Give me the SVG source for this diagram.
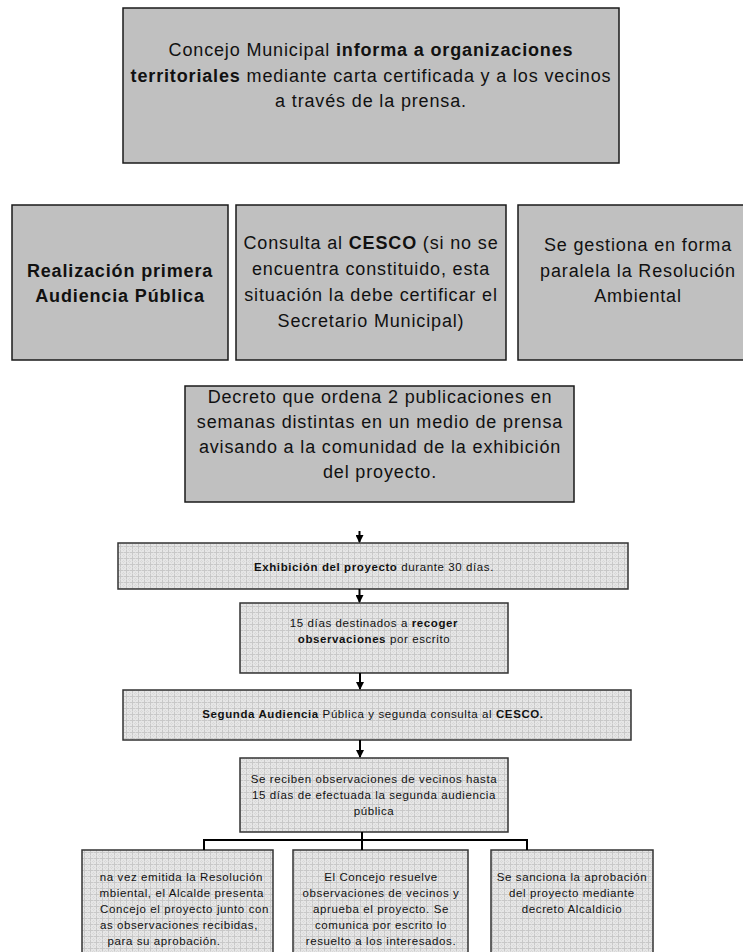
<svg xmlns="http://www.w3.org/2000/svg" width="743" height="952" viewBox="0 0 743 952">
<defs>
<pattern id="grid" width="6" height="6" patternUnits="userSpaceOnUse">
<rect width="6" height="6" fill="#e6e6e6"/>
<path d="M0 0.5H6M0.5 0V6" stroke="#c8c8c8" stroke-width="1"/>
<path d="M0 3.5H6M3.5 0V6" stroke="#d8d8d8" stroke-width="1" stroke-dasharray="1 1"/>
</pattern>
<marker id="arrd" markerWidth="8" markerHeight="8" refX="7" refY="4" orient="auto" markerUnits="userSpaceOnUse" viewBox="0 0 8 8">
<path d="M0 0L8 4L0 8Z" fill="#000"/>
</marker>
<clipPath id="clipL"><rect x="94" y="850" width="180" height="110"/></clipPath>
</defs>
<style>
.g{fill:#c0c0c0;stroke:#1a1a1a;stroke-width:1.5}
.p{fill:url(#grid);stroke:#333;stroke-width:1.5}
.big{font-family:"Liberation Sans",Arial,sans-serif;font-size:18px;letter-spacing:0.85px;fill:#111;text-anchor:middle}
.sm{font-family:"Liberation Sans",Arial,sans-serif;font-size:11.5px;letter-spacing:0.6px;fill:#111;text-anchor:middle}
.b{font-weight:bold}
.c{stroke:#000;stroke-width:2;fill:none}
</style>

<g id="n1">
<rect class="g" x="123" y="8" width="496" height="155"/>
<text class="big" x="371" y="56"><tspan>Concejo Municipal </tspan><tspan class="b">informa a organizaciones</tspan></text>
<text class="big" x="371" y="82"><tspan class="b">territoriales</tspan><tspan> mediante carta certificada y a los vecinos</tspan></text>
<text class="big" x="371" y="107">a través de la prensa.</text>
</g>

<g id="n2">
<rect class="g" x="12" y="205" width="216" height="155"/>
<text class="big b" x="120" y="277">Realización primera</text>
<text class="big b" x="120" y="302">Audiencia Pública</text>
</g>

<g id="n3">
<rect class="g" x="236" y="205" width="270" height="155"/>
<text class="big" x="371" y="249"><tspan>Consulta al </tspan><tspan class="b">CESCO</tspan><tspan> (si no se</tspan></text>
<text class="big" x="371" y="275">encuentra constituido, esta</text>
<text class="big" x="371" y="301">situación la debe certificar el</text>
<text class="big" x="371" y="327">Secretario Municipal)</text>
</g>

<g id="n4">
<rect class="g" x="518" y="205" width="240" height="155"/>
<text class="big" x="638" y="251">Se gestiona en forma</text>
<text class="big" x="638" y="277">paralela la Resolución</text>
<text class="big" x="638" y="302">Ambiental</text>
</g>

<g id="n5">
<rect class="g" x="185" y="386" width="389" height="116"/>
<text class="big" x="380" y="403">Decreto que ordena 2 publicaciones en</text>
<text class="big" x="380" y="428">semanas distintas en un medio de prensa</text>
<text class="big" x="380" y="453">avisando a la comunidad de la exhibición</text>
<text class="big" x="380" y="478">del proyecto.</text>
</g>

<g id="n6">
<rect class="p" x="118" y="543" width="510" height="46"/>
<text class="sm" x="374" y="571"><tspan class="b">Exhibición del proyecto</tspan><tspan> durante 30 días.</tspan></text>
</g>

<g id="n7">
<rect class="p" x="240" y="603" width="268" height="70"/>
<text class="sm" x="374" y="627"><tspan>15 días destinados a  </tspan><tspan class="b">recoger</tspan></text>
<text class="sm" x="374" y="643"><tspan class="b">observaciones</tspan><tspan> por escrito</tspan></text>
</g>

<g id="n8">
<rect class="p" x="123" y="690" width="508" height="50"/>
<text class="sm" x="373" y="718"><tspan class="b">Segunda Audiencia</tspan><tspan> Pública y segunda consulta al </tspan><tspan class="b">CESCO.</tspan></text>
</g>

<g id="n9">
<rect class="p" x="240" y="758" width="268" height="74"/>
<text class="sm" x="374" y="783">Se reciben observaciones de vecinos hasta</text>
<text class="sm" x="374" y="799">15 días de efectuada la segunda audiencia</text>
<text class="sm" x="374" y="815">pública</text>
</g>

<g id="n10">
<rect class="p" x="82" y="850" width="191" height="110"/>
<g clip-path="url(#clipL)">
<text class="sm" x="263" y="881" style="text-anchor:end">na vez emitida la Resolución</text>
<text class="sm" x="264" y="897" style="text-anchor:end">mbiental, el Alcalde presenta</text>
<text class="sm" x="269" y="913" style="text-anchor:end">Concejo el proyecto junto con</text>
<text class="sm" x="258" y="929" style="text-anchor:end">as observaciones recibidas,</text>
<text class="sm" x="164" y="945">para su aprobación.</text>
</g>
</g>

<g id="n11">
<rect class="p" x="293" y="850" width="175" height="110"/>
<text class="sm" x="381" y="881">El Concejo resuelve</text>
<text class="sm" x="381" y="897">observaciones de vecinos y</text>
<text class="sm" x="381" y="913">aprueba el proyecto. Se</text>
<text class="sm" x="381" y="929">comunica por escrito lo</text>
<text class="sm" x="381" y="945">resuelto a los interesados.</text>
</g>

<g id="n12">
<rect class="p" x="491" y="850" width="162" height="110"/>
<text class="sm" x="572" y="881">Se sanciona la aprobación</text>
<text class="sm" x="572" y="897">del proyecto mediante</text>
<text class="sm" x="572" y="913">decreto Alcaldicio</text>
</g>

<g id="connectors">
<line class="c" x1="359.5" y1="531" x2="359.5" y2="542" marker-end="url(#arrd)"/>
<line class="c" x1="359.5" y1="589" x2="359.5" y2="602" marker-end="url(#arrd)"/>
<line class="c" x1="360" y1="673" x2="360" y2="689" marker-end="url(#arrd)"/>
<line class="c" x1="360" y1="740" x2="360" y2="757" marker-end="url(#arrd)"/>
<path class="c" d="M362 832V850M204 850V840H527V850" stroke-width="2.5"/>
</g>
</svg>
